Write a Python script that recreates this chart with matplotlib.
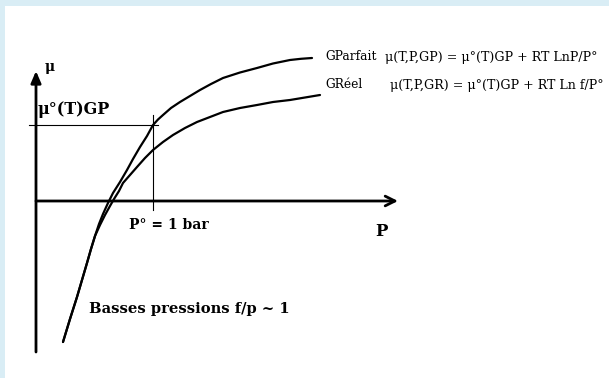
import matplotlib
matplotlib.use("Agg")
import matplotlib.pyplot as plt
from matplotlib.patches import Rectangle

# Chemical potential curves (P measured from the mu axis, mu from the P axis)
gp_p = [27, 34, 41, 46, 51, 55, 59, 63, 67, 72, 77, 84, 91, 97, 104, 111, 117,
        122, 127, 135, 144, 154, 164, 175, 187, 204, 221, 237, 254, 265, 276]
gp_mu = [-141, -118, -96, -79, -62, -48, -35, -23, -13, -2, 8, 19, 31, 42, 54, 65, 76,
         81.5, 86, 93, 99, 105, 111, 117, 123, 128.5, 133, 137.5, 141, 142.2, 143]

gr_p = [27, 34, 41, 46, 51, 55, 59, 64, 69, 74, 78, 83, 87, 94, 101, 109, 117,
        127, 137, 149, 161, 174, 187, 204, 221, 237, 254, 269, 284]
gr_mu = [-141, -118, -96, -79, -62, -48, -35, -24, -14, -5, 2, 10, 18, 26, 34, 43, 51,
         59, 66, 73, 79, 84, 89, 93, 96, 99, 101, 103.5, 106]

# Standard state: P° = 1 bar and mu°(T)GP
p_std = 117
mu_std = 76

serif = ["DejaVu Serif"]

fig = plt.figure(figsize=(6.09, 3.78), dpi=100)
fig.patch.set_facecolor("white")
fig.patches.append(Rectangle((0, 0), 1, 1, transform=fig.transFigure,
                             facecolor="#d9edf5", edgecolor="none", zorder=-2))
fig.patches.append(Rectangle((5 / 609, 0), 1, 1 - 6 / 378, transform=fig.transFigure,
                             facecolor="white", edgecolor="none", zorder=-1))

ax = fig.add_axes([0, 0, 1, 1])
ax.set_xlim(-36, 573)
ax.set_ylim(-177, 201)
ax.axis("off")
ax.patch.set_alpha(0)

# Axes with arrows
ax.annotate("", xy=(0, 130), xytext=(0, -151),
            arrowprops=dict(arrowstyle="-|>,head_length=0.7,head_width=0.3",
                            lw=2, color="black", shrinkA=0, shrinkB=0))
ax.annotate("", xy=(362, 0), xytext=(0, 0),
            arrowprops=dict(arrowstyle="->,head_length=0.7,head_width=0.35",
                            lw=2, color="black", shrinkA=0, shrinkB=0))

# Reference lines for the standard state
ax.plot([-7, p_std + 5], [mu_std, mu_std], color="black", lw=0.8)
ax.plot([p_std, p_std], [-9, mu_std + 10], color="black", lw=0.8)

# Curves
for p, mu in ((gp_p, gp_mu), (gr_p, gr_mu)):
    ax.plot(p, mu, color="black", lw=1.6, solid_capstyle="round", solid_joinstyle="round")

# Labels
ax.text(9, 134, "μ", family=serif, fontweight="bold", fontsize=10, ha="left", va="center")
ax.text(2, 91, "μ°(T)GP", family=serif, fontweight="bold", fontsize=11.5, ha="left", va="center")
ax.text(93, -24, "P° = 1 bar", family=serif, fontweight="bold", fontsize=10, ha="left", va="center")
ax.text(339, -31, "P", family=serif, fontweight="bold", fontsize=12, ha="left", va="center")
ax.text(53, -108, "Basses pressions f/p ~ 1", family=serif, fontweight="bold", fontsize=10.6,
        ha="left", va="center")

ax.text(289, 144, "GParfait", family=serif, fontsize=8.8, ha="left", va="center")
ax.text(349, 144, "μ(T,P,GP) = μ°(T)GP + RT LnP/P°", family=serif, fontsize=9.1,
        ha="left", va="center")
ax.text(289, 116, "GRéel", family=serif, fontsize=8.8, ha="left", va="center")
ax.text(354, 116, "μ(T,P,GR) = μ°(T)GP + RT Ln f/P°", family=serif, fontsize=9.1,
        ha="left", va="center")

fig.savefig("out.png", dpi=100, facecolor=fig.get_facecolor())
